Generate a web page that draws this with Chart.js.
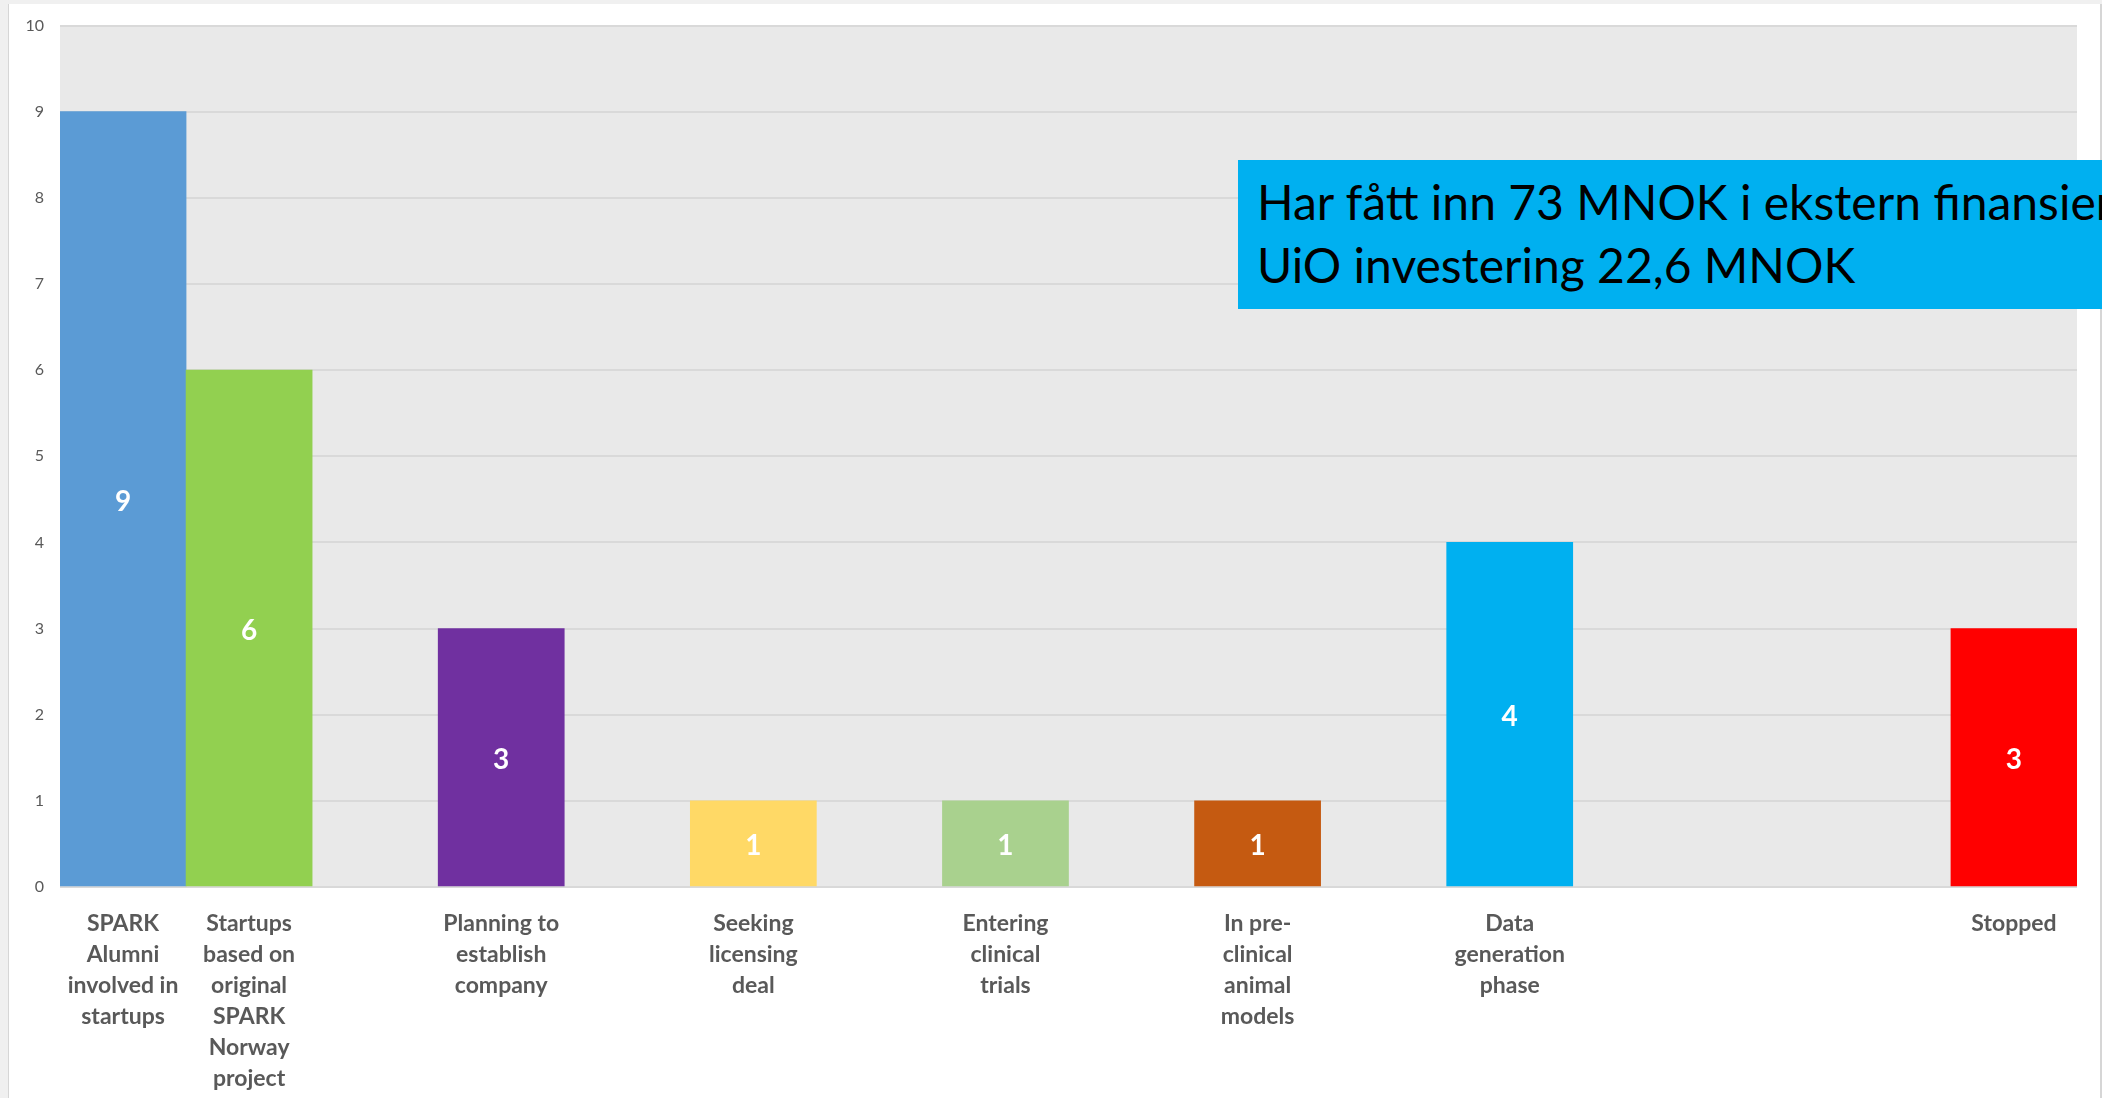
<!DOCTYPE html>
<html>
<head>
<meta charset="utf-8">
<script src="https://cdn.jsdelivr.net/npm/chart.js@4.4.1/dist/chart.umd.min.js"></script>
<style>
  html, body { margin: 0; padding: 0; }
  body { width: 2102px; height: 1098px; background: #f0f0f0; overflow: hidden; position: relative; }
  #frame {
    position: absolute; left: 8px; top: 4px; width: 2091px; height: 1094px;
    background: #ffffff; border-left: 1px solid #d6d6d6; border-right: 2px solid #d6d6d6;
  }
  #frame canvas { display: block; }
  #note {
    position: absolute; left: 1238px; top: 160px; width: 864px; height: 149px;
    background: #00b0f0; color: #000; overflow: hidden; white-space: nowrap;
    font-family: Lato, sans-serif; font-size: 48px; line-height: 63px;
    box-sizing: border-box; padding: 10px 0 0 19px;
  }
</style>
</head>
<body>
<div id="frame"><canvas id="sparkChart" width="2091" height="1094"></canvas></div>
<div id="note">Har fått inn 73 MNOK i ekstern finansiering<br>UiO investering 22,6 MNOK</div>
<script>
// categories (blank slots kept as in the original chart)
var categories = [
  ["SPARK", "Alumni", "involved in", "startups"],
  ["Startups", "based on", "original", "SPARK", "Norway", "project"],
  "",
  ["Planning to", "establish", "company"],
  "",
  ["Seeking", "licensing", "deal"],
  "",
  ["Entering", "clinical", "trials"],
  "",
  ["In pre-", "clinical", "animal", "models"],
  "",
  ["Data", "generation", "phase"],
  "", "", "",
  "Stopped"
];
var counts = [9, 6, null, 3, null, 1, null, 1, null, 1, null, 4, null, null, null, 3];
var barColors = ["#5b9bd5", "#92d050", null, "#7030a0", null, "#ffd966", null, "#a9d18e",
  null, "#c55a11", null, "#00b0f0", null, null, null, "#ff0000"];
var yTicks = [0, 10, 1]; // min, max, step

var plotBg = {
  id: "plotBg",
  beforeDraw: (chart) => {
    const c = chart.ctx, a = chart.chartArea;
    c.save();
    c.fillStyle = "#e9e9e9";
    c.fillRect(a.left, a.top, a.right - a.left, a.bottom - a.top);
    c.restore();
  }
};

// white value in the middle of each bar
var valueLabels = {
  id: "valueLabels",
  afterDatasetsDraw: (chart) => {
    const c = chart.ctx;
    const meta = chart.getDatasetMeta(0);
    c.save();
    c.fillStyle = "#ffffff";
    c.font = "bold 28px Lato";
    c.textAlign = "center";
    c.textBaseline = "middle";
    meta.data.forEach((bar, i) => {
      if (counts[i] == null) return;
      c.fillText(String(counts[i]), bar.x, (bar.y + bar.base) / 2 + 3);
    });
    c.restore();
  }
};

var ctx = document.getElementById("sparkChart").getContext("2d");
var chart = new Chart(ctx, {
  type: "bar",
  data: {
    labels: categories,
    datasets: [{
      data: counts,
      backgroundColor: barColors,
      borderWidth: 0,
      categoryPercentage: 1,
      barPercentage: 1
    }]
  },
  plugins: [plotBg, valueLabels],
  options: {
    responsive: false,
    animation: false,
    layout: { padding: { top: 21.5, right: 23, bottom: 0, left: 0 } },
    plugins: {
      legend: { display: false },
      tooltip: { enabled: false }
    },
    scales: {
      x: {
        grid: { display: false, drawTicks: false },
        border: { display: false },
        ticks: {
          color: "#595959",
          font: { family: "Lato", size: 23, weight: "bold", lineHeight: 1.35 },
          padding: 21,
          autoSkip: false,
          maxRotation: 0,
          minRotation: 0
        },
        afterFit: (scale) => { scale.height = 211; }
      },
      y: {
        min: yTicks[0],
        max: yTicks[1],
        grid: { color: "#d9d9d9", lineWidth: 2, drawTicks: false },
        border: { display: false },
        ticks: {
          stepSize: yTicks[2],
          color: "#595959",
          font: { family: "Lato", size: 16 },
          padding: 16
        },
        afterFit: (scale) => {
          scale.width = 51;
          // don't let the tick padding push the plot area down
          scale.paddingTop = 0;
          scale.paddingBottom = 0;
        }
      }
    }
  }
});
</script>
</body>
</html>
